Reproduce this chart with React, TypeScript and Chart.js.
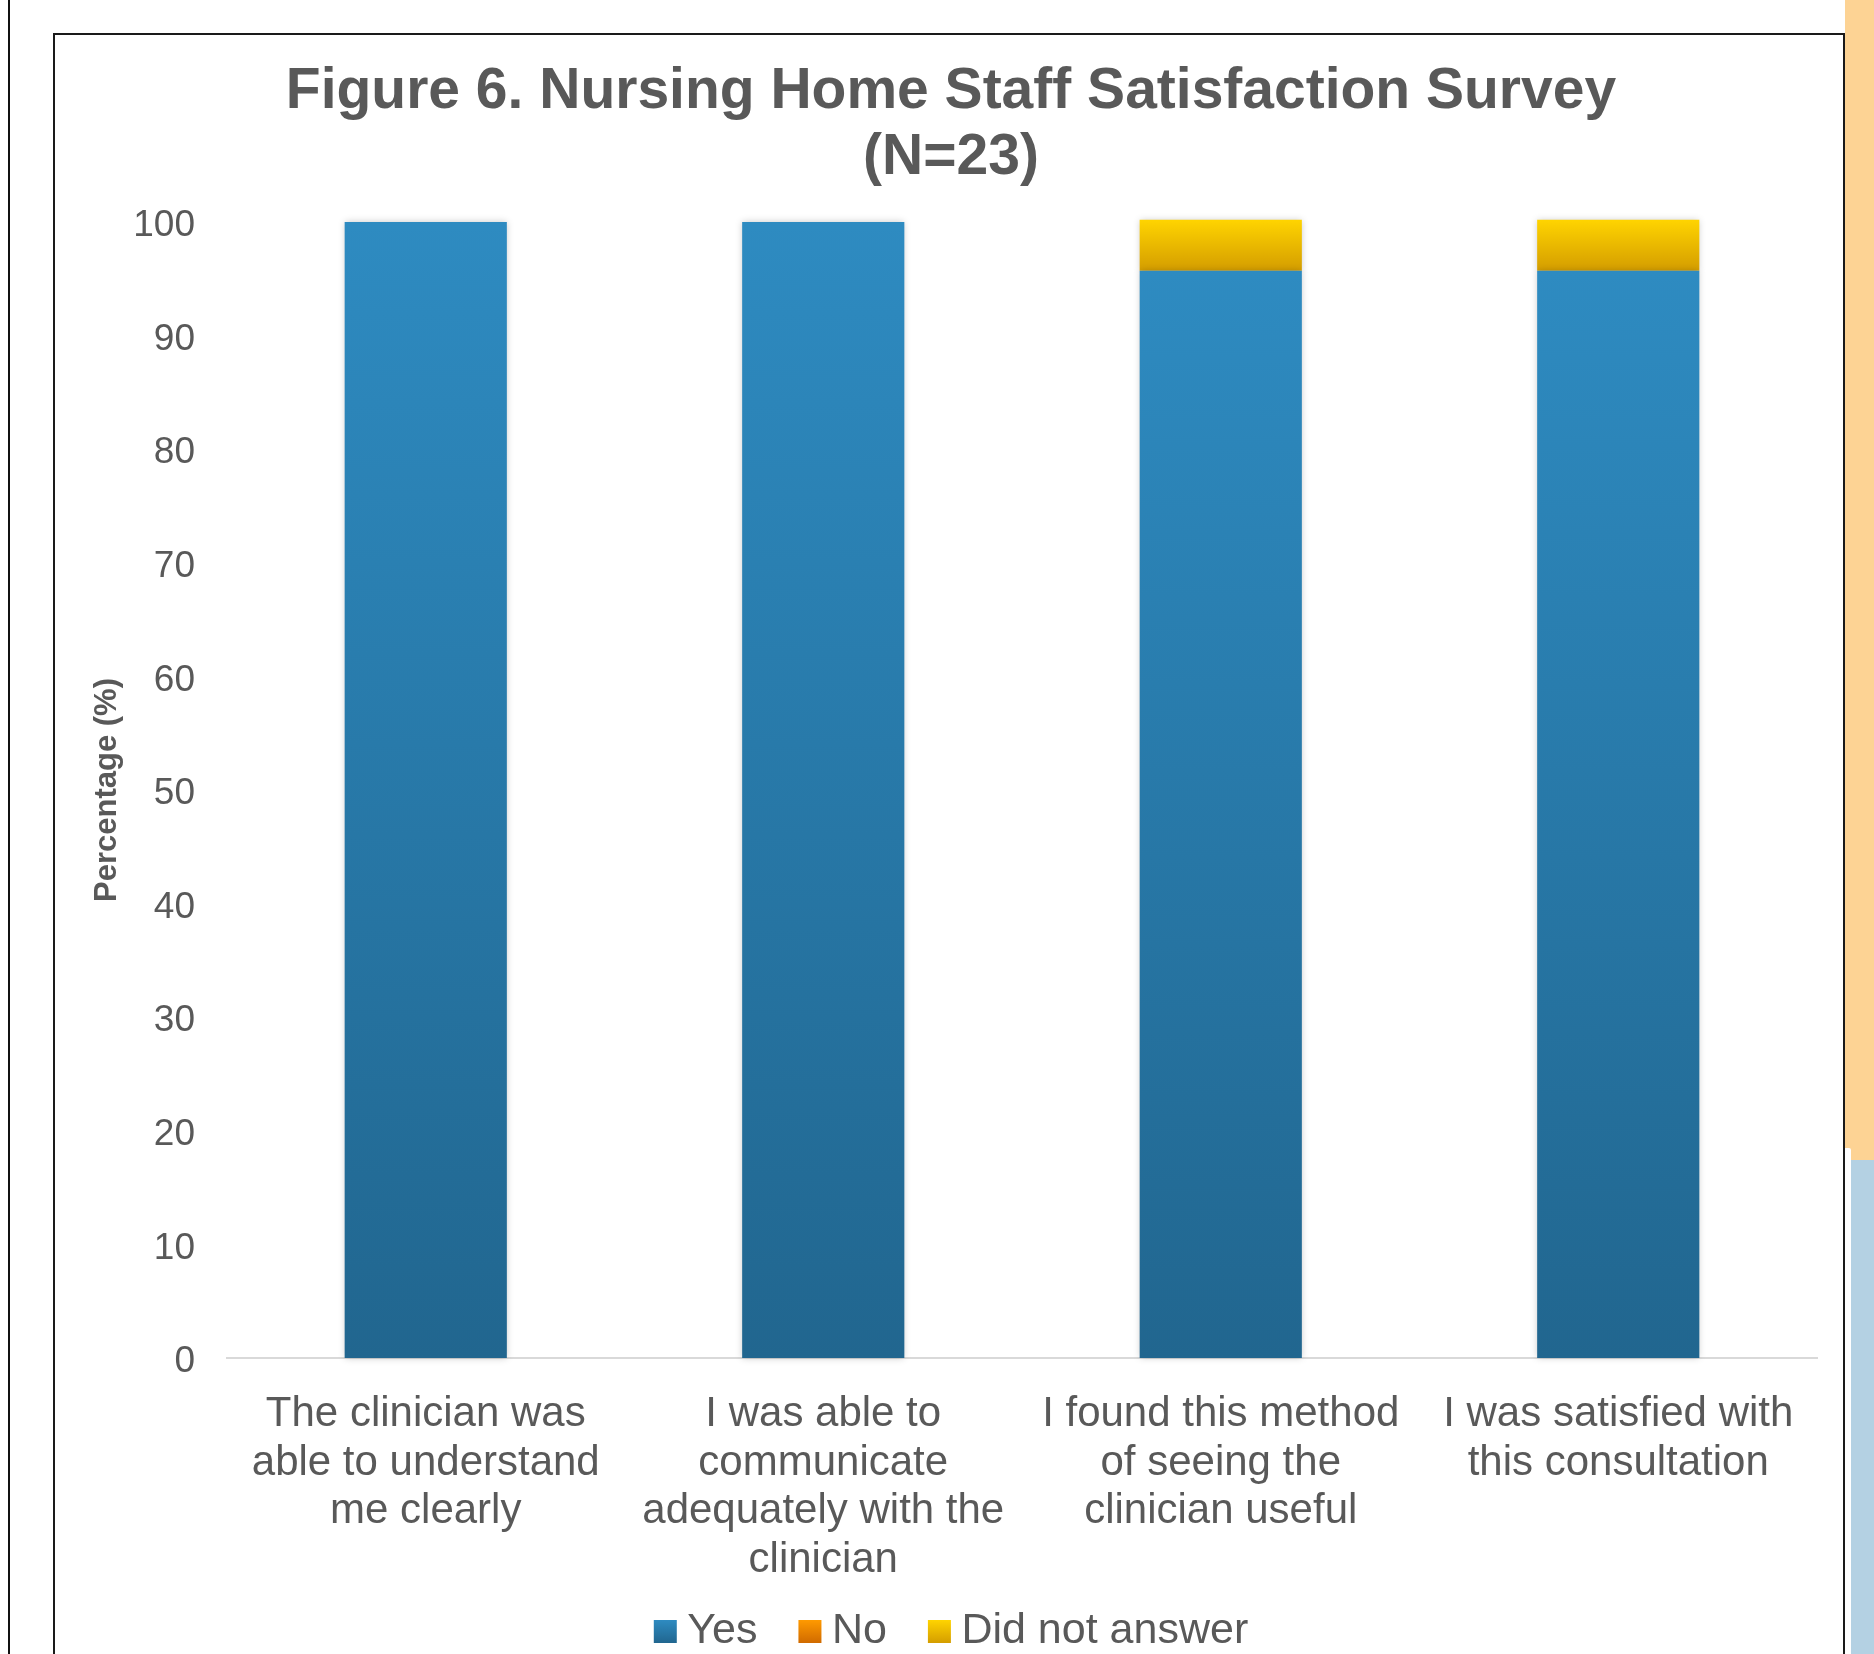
import React, { useEffect, useRef } from "react";
import { Chart, registerables } from "chart.js";

Chart.register(...registerables);

const categories: string[][] = [
  ["The clinician was", "able to understand", "me clearly"],
  ["I was able to", "communicate", "adequately with the", "clinician"],
  ["I found this method", "of seeing the", "clinician useful"],
  ["I was satisfied with", "this consultation"],
];
const yesValues = [100, 100, 95.7, 95.7];
const noValues = [0, 0, 0, 0];
const didNotAnswerValues = [0, 0, 4.5, 4.5];
const seriesNames = ["Yes", "No", "Did not answer"];
const titleLines = ["Figure 6. Nursing Home Staff Satisfaction Survey", "(N=23)"];
const yAxisTitle = "Percentage (%)";
const yTickMin = 0;
const yTickMax = 100;
const yTickStep = 10;

const FONT = "'Liberation Sans', Arial, Helvetica, sans-serif";
const TEXT = "#595959";

const GRADS: [string, string][] = [
  ["#2E8BC1", "#21668F"],
  ["#FF9A00", "#D06A00"],
  ["#FFD400", "#D49D00"],
];

const LEGEND_FONT = 43;
const LEGEND_BOX = 23;
const LEGEND_BOX_ADV = 12;
const LEGEND_PAD = 41;

function barGradient(di: number) {
  const [top, bottom] = GRADS[di];
  return (ctx: any) => {
    const chart = ctx.chart;
    if (ctx.type !== "data" || !chart.chartArea) return top;
    const y = chart.scales.y;
    const i = ctx.dataIndex;
    let base = 0;
    for (let k = 0; k < di; k++) base += Number(chart.data.datasets[k].data[i]) || 0;
    const end = base + (Number(chart.data.datasets[di].data[i]) || 0);
    const y0 = y.getPixelForValue(end);
    const y1 = y.getPixelForValue(base);
    if (!isFinite(y0) || !isFinite(y1) || y1 - y0 < 1) return top;
    const g = chart.ctx.createLinearGradient(0, y0, 0, y1);
    g.addColorStop(0, top);
    g.addColorStop(1, bottom);
    return g;
  };
}

const shadowPlugin = {
  id: "barShadow",
  beforeDatasetsDraw(chart: any) {
    const c = chart.ctx;
    c.save();
    c.shadowColor = "rgba(0,0,0,0.22)";
    c.shadowBlur = 7;
    c.shadowOffsetX = 0;
    c.shadowOffsetY = 0;
  },
  afterDatasetsDraw(chart: any) {
    chart.ctx.restore();
  },
};

const legendGradientPlugin = {
  id: "legendGrad",
  afterDraw(chart: any) {
    const lg = chart.legend;
    if (!lg || !lg.legendHitBoxes) return;
    const c = chart.ctx;
    lg.legendHitBoxes.forEach((hb: any, i: number) => {
      const [top, bottom] = GRADS[i];
      const yTop = hb.top + Math.max((LEGEND_FONT - LEGEND_BOX) / 2, 0);
      const g = c.createLinearGradient(0, yTop, 0, yTop + LEGEND_BOX);
      g.addColorStop(0, top);
      g.addColorStop(1, bottom);
      c.save();
      c.fillStyle = g;
      c.fillRect(hb.left, yTop, LEGEND_BOX, LEGEND_BOX);
      c.restore();
    });
  },
};

export default function App() {
  const ref = useRef<HTMLCanvasElement | null>(null);

  useEffect(() => {
    if (!ref.current) return;
    const values = [yesValues, noValues, didNotAnswerValues];
    const chart = new Chart(ref.current, {
      type: "bar",
      data: {
        labels: categories as any,
        datasets: seriesNames.map((name, di) => ({
          label: name,
          data: values[di],
          backgroundColor: barGradient(di) as any,
          borderWidth: 0,
          barPercentage: 0.408,
          categoryPercentage: 1,
          clip: false as any,
        })),
      },
      options: {
        responsive: false,
        maintainAspectRatio: false,
        animation: false,
        devicePixelRatio: 1,
        layout: { padding: { left: 30, right: 25, top: 0, bottom: 12 } },
        plugins: {
          tooltip: { enabled: false },
          title: {
            display: true,
            text: titleLines,
            color: TEXT,
            font: { family: FONT, size: 57, weight: "bold", lineHeight: 66 / 57 },
            padding: { top: 24, bottom: 31 },
          },
          legend: {
            display: true,
            position: "bottom",
            labels: {
              color: TEXT,
              font: { family: FONT, size: LEGEND_FONT },
              boxWidth: LEGEND_BOX_ADV,
              boxHeight: LEGEND_BOX,
              padding: LEGEND_PAD,
              generateLabels: (chart: any) => {
                const items = Chart.defaults.plugins.legend.labels.generateLabels(chart);
                return items.map((it: any) => ({
                  ...it,
                  fillStyle: "rgba(0,0,0,0)",
                  strokeStyle: "rgba(0,0,0,0)",
                  lineWidth: 0,
                }));
              },
            },
          },
        },
        scales: {
          x: {
            stacked: true,
            grid: { display: false, drawTicks: false },
            border: { display: true, color: "#D9D9D9", width: 2 },
            ticks: {
              color: TEXT,
              font: { family: FONT, size: 42, lineHeight: 1.16 },
              padding: 32,
              maxRotation: 0,
              minRotation: 0,
              autoSkip: false,
            },
            afterFit: (scale: any) => {
              scale.height = 211;
              scale._computeLabelArea = () => undefined;
            },
          },
          y: {
            stacked: true,
            min: yTickMin,
            max: yTickMax,
            grid: { display: false, drawTicks: false },
            border: { display: false },
            ticks: {
              stepSize: yTickStep,
              color: TEXT,
              font: { family: FONT, size: 37, lineHeight: 0.22 },
              padding: 32,
              callback: (v: any) => ["", String(v)],
            },
            title: {
              display: true,
              text: yAxisTitle,
              color: TEXT,
              font: { family: FONT, size: 31, weight: "bold", lineHeight: 1.2 },
              padding: { top: 4, bottom: 0 },
            },
            afterFit: (scale: any) => {
              scale.width = 142;
            },
          },
        },
      },
      plugins: [shadowPlugin, legendGradientPlugin],
    });
    return () => chart.destroy();
  }, []);

  return (
    <div
      style={{
        position: "absolute",
        left: 0,
        top: 0,
        width: 1874,
        height: 1654,
        overflow: "hidden",
        background: "#ffffff",
      }}
    >
      <div style={{ position: "absolute", left: 8, top: 0, width: 2, height: 1654, background: "#111" }} />
      <div
        style={{
          position: "absolute",
          left: 53,
          top: 33,
          width: 1792,
          height: 1700,
          boxSizing: "border-box",
          border: "2px solid #1a1a1a",
          background: "#fff",
        }}
      />
      <canvas
        ref={ref}
        width={1787}
        height={1640}
        style={{ position: "absolute", left: 55, top: 35, width: 1787, height: 1640 }}
      />
      <div style={{ position: "absolute", left: 1845, top: 0, width: 29, height: 1160, background: "#FDD394" }} />
      <div style={{ position: "absolute", left: 1845, top: 1148, width: 6, height: 506, background: "#ffffff", borderTopRightRadius: 2 }} />
      <div style={{ position: "absolute", left: 1851, top: 1160, width: 23, height: 494, background: "#B4D1E3" }} />
    </div>
  );
}
